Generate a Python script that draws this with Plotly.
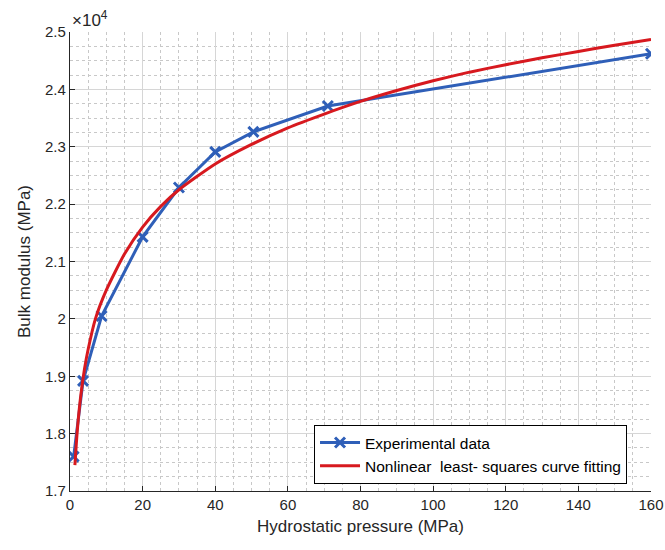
import plotly.graph_objects as go

# Experimental data (pressure in MPa, bulk modulus in MPa)
exp_pressure = [1, 3.6, 8.7, 20, 30, 40, 50.5, 71, 160]
exp_modulus = [17600, 18920, 20050, 21430, 22290, 22910, 23260, 23710, 24620]

# Nonlinear least-squares fitted curve
fit_pressure = [1.35, 2, 3, 4, 5, 7, 10, 15, 20, 25, 30, 40, 50, 60, 70, 80, 90,
                100, 110, 120, 130, 140, 150, 160]
fit_modulus = [17450, 18050, 18680, 19130, 19470, 20000, 20500, 21130, 21600, 21960,
               22250, 22700, 23040, 23330, 23570, 23790, 23980, 24150, 24300, 24430,
               24550, 24660, 24770, 24870]

y_tick_vals = [17000, 18000, 19000, 20000, 21000, 22000, 23000, 24000, 25000]
y_tick_text = ["1.7", "1.8", "1.9", "2", "2.1", "2.2", "2.3", "2.4", "2.5"]
x_tick_vals = [0, 20, 40, 60, 80, 100, 120, 140, 160]

BLUE = "#2f5fb8"
RED = "#d7191f"
FONT = "Liberation Sans, Arial, sans-serif"
TXT = "#262626"

fig = go.Figure()
fig.add_trace(go.Scatter(
    x=exp_pressure, y=exp_modulus, mode="lines+markers",
    name="Experimental data",
    line=dict(color=BLUE, width=3),
    marker=dict(symbol="x-thin", size=10, line=dict(color=BLUE, width=3), color=BLUE),
))
fig.add_trace(go.Scatter(
    x=fit_pressure, y=fit_modulus, mode="lines",
    name="Nonlinear\u00a0 least- squares curve fitting",
    line=dict(color=RED, width=3, shape="spline", smoothing=0.6),
))

axis_common = dict(
    showline=True, linecolor=TXT, linewidth=1.2,
    ticks="inside", ticklen=5, tickcolor=TXT, tickwidth=1,
    showgrid=True, gridcolor="#d6d6d6", gridwidth=1,
    zeroline=False, automargin=False,
    tickfont=dict(family=FONT, size=15, color=TXT),
)

fig.update_xaxes(
    range=[0, 160], tickvals=x_tick_vals,
    title=dict(text="Hydrostatic pressure (MPa)", font=dict(family=FONT, size=17, color=TXT), standoff=8),
    minor=dict(dtick=5, showgrid=True, gridcolor="#c8c8c8", griddash="dot", gridwidth=1, ticks=""),
    **axis_common,
)
fig.update_yaxes(
    range=[17000, 25000], tickvals=y_tick_vals, ticktext=y_tick_text,
    title=dict(text="Bulk modulus (MPa)", font=dict(family=FONT, size=17, color=TXT), standoff=10),
    minor=dict(dtick=250, showgrid=True, gridcolor="#c8c8c8", griddash="dot", gridwidth=1, ticks=""),
    **axis_common,
)

fig.add_annotation(
    xref="paper", yref="paper", x=0, y=1, xanchor="left", yanchor="bottom",
    text="×10<sup>4</sup>", showarrow=False, yshift=0,
    font=dict(family=FONT, size=17, color=TXT),
)

fig.update_layout(
    width=665, height=550,
    margin=dict(l=70, r=14, t=32, b=59),
    paper_bgcolor="white", plot_bgcolor="white",
    showlegend=True,
    legend=dict(
        x=0.42, y=0.144, xanchor="left", yanchor="top",
        bgcolor="white", bordercolor="#000000", borderwidth=1,
        font=dict(family=FONT, size=15.5, color="#000000"),
        tracegroupgap=0, itemwidth=40,
    ),
)

fig.write_html("out.html")
